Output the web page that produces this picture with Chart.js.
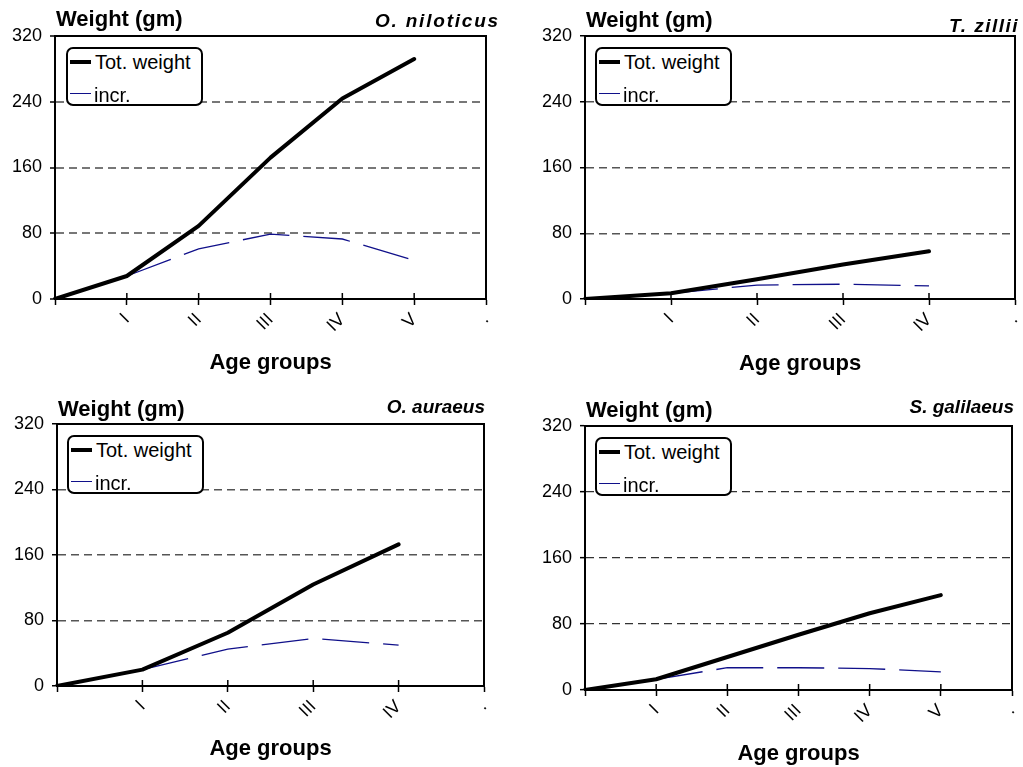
<!DOCTYPE html>
<html>
<head>
<meta charset="utf-8">
<script src="https://cdn.jsdelivr.net/npm/chart.js@4/dist/chart.umd.min.js"></script>
<style>
body { margin: 0; background: #fff; width: 1023px; height: 767px; position: relative; overflow: hidden;
       font-family: 'Liberation Sans', Arial, sans-serif; color: #000; }
.panel { position: absolute; }
.panel canvas { position: absolute; left: 0; top: 0; }
.ytitle { position: absolute; font-weight: bold; font-size: 22px; line-height: 22px; white-space: nowrap; }
.species { position: absolute; font-weight: bold; font-style: italic; font-size: 19px; line-height: 19px; white-space: nowrap; }
.legend { position: absolute; width: 133px; height: 55px; border: 2px solid #000; border-radius: 7px; background: #fff; font-size: 20px; }
.legend .row { position: absolute; left: 0; height: 24px; line-height: 24px; white-space: nowrap; width: 130px; }
.legend .swatch { position: absolute; left: 2px; width: 21px; }
.legend .txt { position: absolute; left: 27px; top: 0; }
</style>
</head>
<body>
<script>
// age group labels (first is the origin, last is the trailing "." category)
const ageNiloticus = ['', 'I', 'II', 'III', 'IV', 'V', '.'];
const ageZillii = ['', 'I', 'II', 'III', 'IV', '.'];
const ageAureus = ['', 'I', 'II', 'III', 'IV', '.'];
const ageGalilaeus = ['', 'I', 'II', 'III', 'IV', 'V', '.'];

// total weight (gm)
const totNiloticus = [0, 28, 89, 172, 244, 292];
const totZillii = [0, 7, 24, 42, 58];
const totAureus = [0, 20, 65, 124, 173];
const totGalilaeus = [0, 13, 40, 67, 93, 115];

// yearly increment (gm)
const incrNiloticus = [null, 28, 61, 79, 73, 47];
const incrZillii = [null, 7, 17, 18, 16];
const incrAureus = [null, 20, 45, 58, 50];
const incrGalilaeus = [null, 13, 27, 27, 26, 22];

const yTicks = [0, 80, 160, 240, 320];
const seriesNames = ['Tot. weight', 'incr.'];

Chart.defaults.font.family = "'Liberation Sans', Arial, sans-serif";
Chart.defaults.color = '#000';

const panels = [
    { left: 0, top: 0, w: 511, h: 383, yw: 55, pr: 25, pt: 36, xh: 84, tb: 9,
      labels: ageNiloticus, tot: totNiloticus, incr: incrNiloticus,
      species: 'O. niloticus', spRight: 11, spTop: 10.7, spLs: 1.8,
      wLeft: 56, wTop: 8.4, lgLeft: 66, lgTop: 47, grid: '#777', gw: 2 },
    { left: 512, top: 0, w: 511, h: 383, yw: 73, pr: 8, pt: 36, xh: 84, tb: 8,
      labels: ageZillii, tot: totZillii, incr: incrZillii,
      species: 'T. zillii', spLeft: 437, spTop: 15.7, spLs: 1.5,
      wLeft: 74, wTop: 9.2, lgLeft: 83, lgTop: 47, grid: '#555', gw: 1.5 },
    { left: 0, top: 383, w: 511, h: 384, yw: 57, pr: 27, pt: 41, xh: 81, tb: 6.8,
      labels: ageAureus, tot: totAureus, incr: incrAureus,
      species: 'O. auraeus', spRight: 26, spTop: 14.4, spLs: 0,
      wLeft: 58, wTop: 15, lgLeft: 67, lgTop: 52, grid: '#555', gw: 1.5 },
    { left: 512, top: 383, w: 511, h: 384, yw: 73, pr: 11, pt: 43, xh: 77, tb: 2.5,
      labels: ageGalilaeus, tot: totGalilaeus, incr: incrGalilaeus,
      species: 'S. galilaeus', spRight: 9, spTop: 14.4, spLs: 0,
      wLeft: 74, wTop: 16.2, lgLeft: 83, lgTop: 54, grid: '#333', gw: 1.3 }
];

// plot frame + inner half of the x tick marks
const framePlugin = {
    id: 'frame',
    afterDraw(chart) {
        const { ctx, chartArea: a, scales: { x } } = chart;
        ctx.save();
        ctx.strokeStyle = '#000';
        ctx.lineWidth = 2;
        ctx.strokeRect(a.left, a.top, a.right - a.left, a.bottom - a.top);
        ctx.lineWidth = 1.5;
        x.ticks.forEach((t, i) => {
            const px = x.getPixelForTick(i);
            ctx.beginPath();
            ctx.moveTo(px, a.bottom - 6);
            ctx.lineTo(px, a.bottom);
            ctx.stroke();
        });
        ctx.restore();
    }
};

function makePanel(p) {
    const box = document.createElement('div');
    box.className = 'panel';
    box.style.cssText = `left:${p.left}px;top:${p.top}px;width:${p.w}px;height:${p.h}px`;
    document.body.appendChild(box);

    const canvas = document.createElement('canvas');
    canvas.width = p.w;
    canvas.height = p.h;
    box.appendChild(canvas);

    const wt = document.createElement('div');
    wt.className = 'ytitle';
    wt.textContent = 'Weight (gm)';
    wt.style.left = p.wLeft + 'px';
    wt.style.top = p.wTop + 'px';
    box.appendChild(wt);

    const sp = document.createElement('div');
    sp.className = 'species';
    sp.textContent = p.species;
    if (p.spLeft !== undefined) sp.style.left = p.spLeft + 'px';
    else sp.style.right = p.spRight + 'px';
    sp.style.top = p.spTop + 'px';
    sp.style.letterSpacing = p.spLs + 'px';
    box.appendChild(sp);

    const lg = document.createElement('div');
    lg.className = 'legend';
    lg.style.left = p.lgLeft + 'px';
    lg.style.top = p.lgTop + 'px';
    lg.innerHTML =
        `<div class="row" style="top:1px"><div class="swatch" style="top:10px;height:4px;background:#000"></div><span class="txt">${seriesNames[0]}</span></div>` +
        `<div class="row" style="top:34px"><div class="swatch" style="top:10px;height:1.3px;background:#10108a"></div><span class="txt" style="left:26px">${seriesNames[1]}</span></div>`;
    box.appendChild(lg);

    new Chart(canvas, {
        type: 'line',
        data: {
            labels: p.labels,
            datasets: [
                {
                    label: seriesNames[0],
                    data: p.tot,
                    borderColor: '#000',
                    borderWidth: 4,
                    pointRadius: 0,
                    borderJoinStyle: 'round',
                    borderCapStyle: 'round',
                    tension: 0
                },
                {
                    label: seriesNames[1],
                    data: p.incr,
                    borderColor: '#10108a',
                    borderWidth: 1.3,
                    borderDash: [47, 14],
                    pointRadius: 0,
                    tension: 0
                }
            ]
        },
        options: {
            responsive: false,
            animation: false,
            devicePixelRatio: 1,
            layout: { padding: { left: 0, right: p.pr, top: p.pt, bottom: 0 } },
            plugins: { legend: { display: false }, tooltip: { enabled: false } },
            scales: {
                x: {
                    offset: false,
                    afterFit: s => { s.height = p.xh; s.paddingLeft = 0; s.paddingRight = 0; },
                    ticks: { autoSkip: false, minRotation: 45, maxRotation: 45, color: '#000', font: { size: 18 }, padding: 4 },
                    grid: { drawOnChartArea: false, tickLength: 6, tickColor: '#000', tickWidth: 1.5 },
                    border: { color: '#000', width: 2 },
                    title: {
                        display: true, text: 'Age groups', color: '#000',
                        font: { size: 22, weight: 'bold', lineHeight: 1 },
                        padding: { top: 0, bottom: p.tb }
                    }
                },
                y: {
                    min: 0,
                    max: 320,
                    afterBuildTicks: s => { s.ticks = yTicks.map(v => ({ value: v })); },
                    afterFit: s => { s.width = p.yw; s.paddingTop = 0; s.paddingBottom = 0; },
                    ticks: { color: '#000', font: { size: 18 }, padding: 8 },
                    grid: {
                        color: c => (c.tick && (c.tick.value === 0 || c.tick.value === 320)) ? 'rgba(0,0,0,0)' : p.grid,
                        lineWidth: p.gw,
                        tickColor: '#000',
                        tickLength: 5,
                        tickWidth: 1.5
                    },
                    border: { color: '#000', width: 2, dash: [8, 5] }
                }
            }
        },
        plugins: [framePlugin]
    });
}

panels.forEach(makePanel);
</script>
</body>
</html>
